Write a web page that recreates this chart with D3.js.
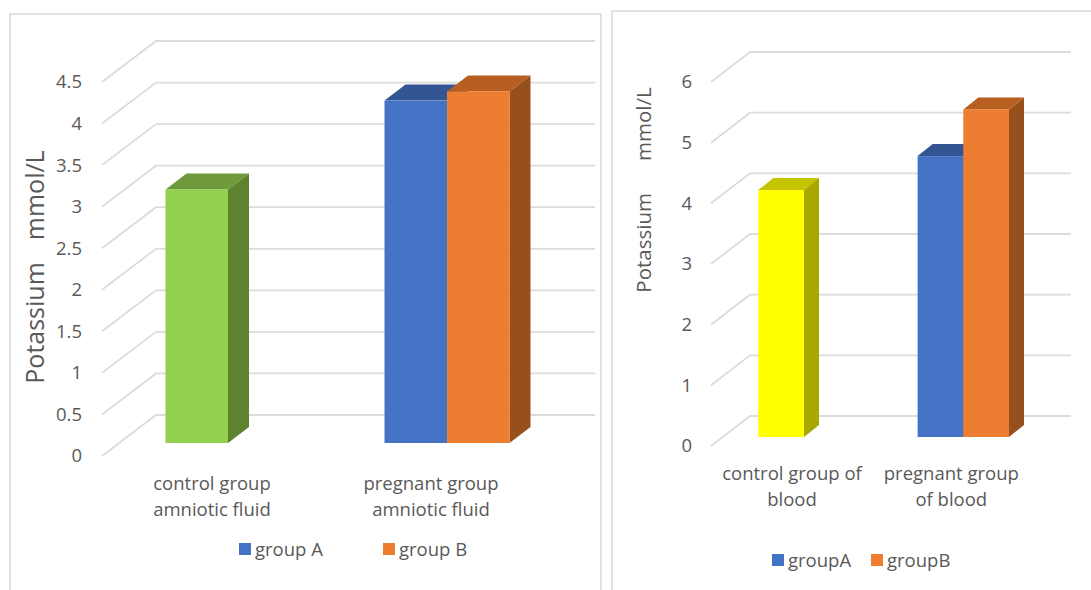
<!DOCTYPE html>
<html>

<head>
    <meta charset="utf-8">
    <script src="https://d3js.org/d3.v7.min.js"></script>
    <style>
        body { margin: 0; background: #fff; }
        text { font-family: "Open Sans", Lato, sans-serif; fill: #595959; }
        .domain { stroke: none; }
    </style>
</head>

<body>
    <svg id="chart" width="1091" height="590"></svg>
    <script>
        // left chart values
        const fluidCategories = [["control group", "amniotic fluid"], ["pregnant group", "amniotic fluid"]];
        const fluidSeries = ["group A", "group B"];
        const fluidA = [3.05, 4.12];
        const fluidB = [null, 4.23];
        const fluidTicks = [0, 0.5, 1, 1.5, 2, 2.5, 3, 3.5, 4, 4.5];

        // right chart values
        const bloodCategories = [["control group of", "blood"], ["pregnant group", "of blood"]];
        const bloodSeries = ["groupA", "groupB"];
        const bloodA = [4.07, 4.63];
        const bloodB = [null, 5.40];
        const bloodTicks = [0, 1, 2, 3, 4, 5, 6];

        const blue = { front: "#4472c4", top: "#335593", side: "#2f5597" };
        const orange = { front: "#ed7d31", top: "#b85e20", side: "#97501c" };
        const green = { front: "#92d050", top: "#6f9a39", side: "#5f8231" };
        const yellow = { front: "#ffff00", top: "#c4c400", side: "#a8a800" };

        const svg = d3.select("#chart");

        function drawChart(c) {
            const g = svg.append("g");

            g.append("rect")
                .attr("x", c.box[0]).attr("y", c.box[1])
                .attr("width", c.box[2]).attr("height", c.box[3])
                .attr("fill", "#fff")
                .attr("stroke", "#d9d9d9")
                .attr("stroke-width", 1.5);

            // front edge of the floor/wall, labels sit on this one
            const wallY = d3.scaleLinear().domain(c.domain).range(c.wallRange);
            // bars stand a bit further in than the wall start
            const barY = d3.scaleLinear().domain(c.domain)
                .range([c.barBase, c.barBase - (c.wallRange[0] - c.wallRange[1])]);

            const gridline = d3.line();
            g.selectAll("path.grid").data(c.ticks)
                .join("path")
                .attr("class", "grid")
                .attr("fill", "none")
                .attr("stroke", "#dcdcdc")
                .attr("stroke-width", 1.8)
                .attr("d", d => gridline([
                    [c.wallX[0], wallY(d)],
                    [c.wallX[1], wallY(d) - c.wallRise],
                    [c.wallX[2], wallY(d) - c.wallRise]
                ]));

            let leftAxis = d3.axisLeft(wallY)
                .tickValues(c.ticks)
                .tickSize(0)
                .tickPadding(0)
                .tickFormat(d3.format("~g"));
            g.append("g")
                .attr("transform", "translate(" + c.tickX + ",0)")
                .call(leftAxis)
                .selectAll("text")
                .style("font-family", "'Open Sans', Lato, sans-serif")
                .style("font-size", "18.5px")
                .style("fill", "#595959");

            // axis title, two words with a wide gap
            const title = g.append("text")
                .attr("transform", "translate(" + c.titleX + "," + c.titleY + ") rotate(-90)")
                .attr("text-anchor", "middle")
                .attr("dominant-baseline", "middle")
                .style("font-size", c.titleSize + "px");
            title.selectAll("tspan").data(c.title)
                .join("tspan")
                .attr("dx", (d, i) => i === 0 ? 0 : c.titleGap)
                .text(d => d);

            const xGroup = d3.scaleBand().domain([0, 1]).range(c.groupRange);
            const xSeries = d3.scaleBand().domain(c.series).range([0, c.clusterWidth]);
            const clusterStart = i => xGroup(i) + (xGroup.bandwidth() - c.clusterWidth) / 2;

            // single flat bars per series, A first so B overlaps its side face
            const bars = [];
            c.values.forEach((vals, s) => {
                vals.forEach((v, i) => {
                    if (v === null) return;
                    const colors = i === 0 ? c.controlColor : c.seriesColor[s];
                    const x = clusterStart(i) + xSeries(c.series[s]);
                    bars.push({ x: x, w: xSeries.bandwidth(), top: barY(v), colors: colors });
                });
            });

            const poly = pts => pts.map(p => p.join(",")).join(" ");
            const bar = g.selectAll("g.bar").data(bars).join("g").attr("class", "bar");
            bar.append("polygon")
                .attr("fill", d => d.colors.top)
                .attr("points", d => poly([
                    [d.x, d.top], [d.x + c.depthX, d.top - c.depthY],
                    [d.x + d.w + c.depthX, d.top - c.depthY], [d.x + d.w, d.top]
                ]));
            bar.append("polygon")
                .attr("fill", d => d.colors.side)
                .attr("points", d => poly([
                    [d.x + d.w, d.top], [d.x + d.w + c.depthX, d.top - c.depthY],
                    [d.x + d.w + c.depthX, c.barBase - c.depthY], [d.x + d.w, c.barBase]
                ]));
            bar.append("rect")
                .attr("x", d => d.x)
                .attr("y", d => d.top)
                .attr("width", d => d.w)
                .attr("height", d => c.barBase - d.top)
                .attr("fill", d => d.colors.front);

            // two line category labels
            const cat = g.selectAll("text.cat").data(c.categories)
                .join("text")
                .attr("class", "cat")
                .attr("text-anchor", "middle")
                .style("font-size", "18.5px");
            cat.selectAll("tspan").data((d, i) => d.map(line => ({ line: line, i: i })))
                .join("tspan")
                .attr("x", d => xGroup(d.i) + xGroup.bandwidth() / 2 - c.depthY)
                .attr("y", (d, j) => c.catY + j * 25.5)
                .text(d => d.line);

            // legend
            const item = g.selectAll("g.legend").data(c.series)
                .join("g")
                .attr("class", "legend")
                .attr("transform", (d, i) => "translate(" + c.legendX[i] + "," + c.legendY + ")");
            item.append("rect")
                .attr("y", -6).attr("width", 12).attr("height", 12)
                .attr("fill", (d, i) => c.seriesColor[i].front);
            item.append("text")
                .attr("x", 16)
                .attr("y", 6.5)
                .style("font-size", "18.5px")
                .text(d => d);
        }

        drawChart({
            box: [10, 14, 591, 600],
            domain: [0, 4.5], ticks: fluidTicks,
            wallRange: [456, 82], wallRise: 41, wallX: [102, 156, 595],
            tickX: 82,
            barBase: 443, depthX: 21, depthY: 16,
            groupRange: [118.5, 556.5], clusterWidth: 125,
            categories: fluidCategories, series: fluidSeries, values: [fluidA, fluidB],
            controlColor: green, seriesColor: [blue, orange],
            title: ["Potassium", "mmol/L"], titleGap: 22, titleX: 37, titleY: 267, titleSize: 25,
            catY: 490, legendX: [239, 383], legendY: 549
        });

        drawChart({
            box: [612, 11, 600, 600],
            domain: [0, 6], ticks: bloodTicks,
            wallRange: [446, 82], wallRise: 30, wallX: [711, 750, 1071],
            tickX: 692,
            barBase: 437, depthX: 15, depthY: 12,
            groupRange: [724.35, 1042.95], clusterWidth: 91.4,
            categories: bloodCategories, series: bloodSeries, values: [bloodA, bloodB],
            controlColor: yellow, seriesColor: [blue, orange],
            title: ["Potassium", "mmol/L"], titleGap: 32, titleX: 646, titleY: 190, titleSize: 20.5,
            catY: 480, legendX: [772, 871], legendY: 560
        });
    </script>
</body>

</html>
